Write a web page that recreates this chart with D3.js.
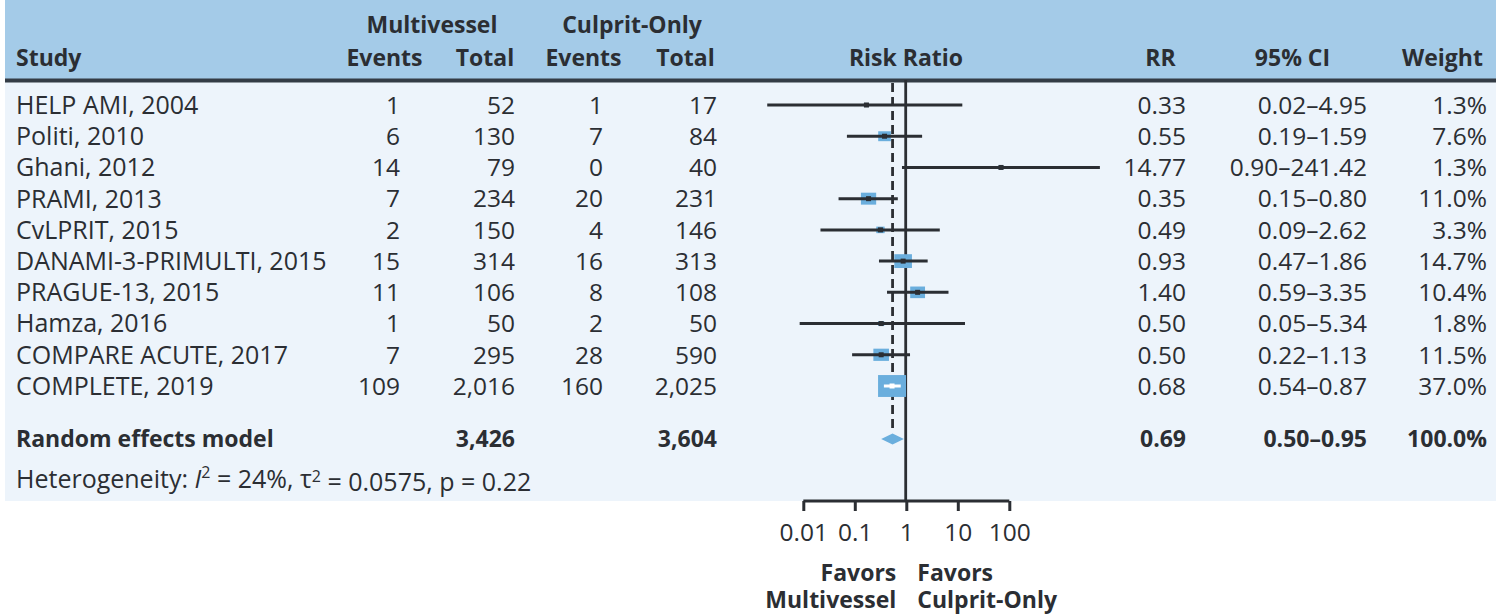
<!DOCTYPE html>
<html><head><meta charset="utf-8">
<script src="https://cdn.jsdelivr.net/npm/d3@7"></script>
<style>
body{margin:0;background:#fff}
.b{font-family:'Open Sans',sans-serif;font-weight:700;font-size:23px;font-stretch:90%;fill:#2b2e33}
.n{font-family:'Open Sans',sans-serif;font-weight:400;font-size:24.5px;font-stretch:90%;fill:#2b2e33}
.s{font-family:'Open Sans',sans-serif;font-weight:400;font-size:25px;fill:#2b2e33}
</style></head>
<body><svg id="chart" width="1496" height="614"></svg>
<script>
// ---- data ----
const studies = ["HELP AMI, 2004","Politi, 2010","Ghani, 2012","PRAMI, 2013","CvLPRIT, 2015","DANAMI-3-PRIMULTI, 2015","PRAGUE-13, 2015","Hamza, 2016","COMPARE ACUTE, 2017","COMPLETE, 2019"];
const mvEvents = [1,6,14,7,2,15,11,1,7,109];
const mvTotal  = [52,130,79,234,150,314,106,50,295,2016];
const coEvents = [1,7,0,20,4,16,8,2,28,160];
const coTotal  = [17,84,40,231,146,313,108,50,590,2025];
const rr    = [0.33,0.55,14.77,0.35,0.49,0.93,1.40,0.50,0.50,0.68];
const ciLow = [0.02,0.19,0.90,0.15,0.09,0.47,0.59,0.05,0.22,0.54];
const ciHigh= [4.95,1.59,241.42,0.80,2.62,1.86,3.35,5.34,1.13,0.87];
const weight= [1.3,7.6,1.3,11.0,3.3,14.7,10.4,1.8,11.5,37.0];
const pooled = {label:"Random effects model", mvTotal:3426, coTotal:3604, rr:0.69, lo:0.50, hi:0.95, w:100.0};
const axisTicks = [0.01,0.1,1,10,100];
const heterogeneity = {I2:"24%", tau2:"0.0575", p:"0.22"};

// ---- layout ----
const W=1496,H=614;
const svg=d3.select("#chart");
const fmtInt=d3.format(",");
const fmt2=d3.format(".2f");
const fmtW=d=>d3.format(".1f")(d)+"%";

const y=d3.scaleLinear().domain([0,9]).range([105,386]);
const ySummary=y(10.7);
// plotted effect scale (as drawn in the figure)
const xData=d3.scaleLog().domain([0.01,100]).range([742.7,1068.7]);
// axis scale (tick labels as printed under the figure)
const xAxis=d3.scaleLog().domain([0.01,100]).range([803.3,1009.3]);
const axisY=501;

const blue="#6aaedd", dark="#2b2e33";

// backgrounds
svg.append("rect").attr("x",5).attr("y",0).attr("width",W-5).attr("height",80).attr("fill","#a4cbe8");
svg.append("rect").attr("x",5).attr("y",82).attr("width",W-5).attr("height",axisY-82).attr("fill","#edf4fb");
svg.append("rect").attr("x",5).attr("y",78.5).attr("width",W-5).attr("height",4).attr("fill","#343c45");

// headers
const hdr=[
 {t:"Multivessel",x:432,y:33,a:"middle"},
 {t:"Culprit-Only",x:632,y:33,a:"middle"},
 {t:"Study",x:16,y:66,a:"start"},
 {t:"Events",x:384.5,y:66,a:"middle"},
 {t:"Total",x:485,y:66,a:"middle"},
 {t:"Events",x:583.5,y:66,a:"middle"},
 {t:"Total",x:685.5,y:66,a:"middle"},
 {t:"Risk Ratio",x:906,y:66,a:"middle"},
 {t:"RR",x:1160.5,y:66,a:"middle"},
 {t:"95% CI",x:1292.5,y:66,a:"middle"},
 {t:"Weight",x:1442.5,y:66,a:"middle"}
];
svg.selectAll("text.hdr").data(hdr).join("text").attr("class","b hdr")
 .attr("x",d=>d.x).attr("y",d=>d.y).attr("text-anchor",d=>d.a).text(d=>d.t);

// columns
const cols=[
 {x:400,v:i=>String(mvEvents[i])},
 {x:515,v:i=>fmtInt(mvTotal[i])},
 {x:603,v:i=>String(coEvents[i])},
 {x:717,v:i=>fmtInt(coTotal[i])},
 {x:1186,v:i=>fmt2(rr[i])},
 {x:1367,v:i=>fmt2(ciLow[i])+"–"+fmt2(ciHigh[i])},
 {x:1487,v:i=>fmtW(weight[i])}
];
const rows=svg.append("g");
studies.forEach((s,i)=>{
  rows.append("text").attr("class","s").attr("x",16).attr("y",y(i)).attr("dy","0.357em").text(s);
  cols.forEach(c=>rows.append("text").attr("class","n").attr("x",c.x).attr("y",y(i)).attr("dy","0.357em").attr("text-anchor","end").text(c.v(i)));
});
// summary row
const sumTexts=[
 {x:16,a:"start",t:pooled.label},
 {x:515,a:"end",t:fmtInt(pooled.mvTotal)},
 {x:717,a:"end",t:fmtInt(pooled.coTotal)},
 {x:1186,a:"end",t:fmt2(pooled.rr)},
 {x:1367,a:"end",t:fmt2(pooled.lo)+"–"+fmt2(pooled.hi)},
 {x:1487,a:"end",t:fmtW(pooled.w)}
];
svg.selectAll("text.sum").data(sumTexts).join("text").attr("class","b sum")
 .attr("x",d=>d.x).attr("y",ySummary).attr("dy","0.357em").attr("text-anchor",d=>d.a).text(d=>d.t);

// heterogeneity
const het=svg.append("text").attr("class","s").attr("x",16).attr("y",ySummary+40).attr("dy","0.357em");
het.append("tspan").text("Heterogeneity: ");
het.append("tspan").attr("font-style","italic").text("I");
het.append("tspan").attr("font-size","16px").attr("dy","-0.6em").text("2");
het.append("tspan").attr("dy","0.38em").text(" = "+heterogeneity.I2+", τ");
het.append("tspan").attr("font-size","16px").attr("dy","-0.38em").text("2");
het.append("tspan").attr("dy","0.38em").text(" = "+heterogeneity.tau2+", p = "+heterogeneity.p);

// forest plot
const plot=svg.append("g");
plot.append("line").attr("x1",xData(1)).attr("x2",xData(1)).attr("y1",80).attr("y2",axisY)
 .attr("stroke",dark).attr("stroke-width",2.8);
plot.append("line").attr("x1",xData(pooled.rr)).attr("x2",xData(pooled.rr)).attr("y1",83).attr("y2",ySummary-7)
 .attr("stroke",dark).attr("stroke-width",2.8).attr("stroke-dasharray","9,5");

const boxW=w=>4.6*Math.sqrt(w), boxH=w=>3.6*Math.sqrt(w);
studies.forEach((s,i)=>{
  const cx=xData(rr[i]), cy=y(i);
  plot.append("rect").attr("x",cx-boxW(weight[i])/2).attr("y",cy-boxH(weight[i])/2)
    .attr("width",boxW(weight[i])).attr("height",boxH(weight[i])).attr("fill",blue);
  const inside = (xData(ciHigh[i])-xData(ciLow[i])) < boxW(weight[i]);
  const col = inside ? "#ffffff" : dark;
  plot.append("line").attr("x1",xData(ciLow[i])).attr("x2",xData(ciHigh[i])).attr("y1",cy).attr("y2",cy)
    .attr("stroke",col).attr("stroke-width",3);
  plot.append("rect").attr("x",cx-2.5).attr("y",cy-2.5).attr("width",5).attr("height",5).attr("fill",col);
});
const dm=[[xData(pooled.lo),ySummary],[xData(pooled.rr),ySummary-5.5],[xData(pooled.hi),ySummary],[xData(pooled.rr),ySummary+5.5]];
plot.append("path").attr("d",d3.line()(dm)+"Z").attr("fill",blue);

// axis
const ax=svg.append("g").attr("transform",`translate(0,${axisY})`)
 .call(d3.axisBottom(xAxis).tickValues(axisTicks).tickFormat(d=>String(d)).tickSize(10).tickSizeOuter(0).tickPadding(13));
ax.select(".domain").attr("stroke",dark).attr("stroke-width",3).attr("d",`M${xAxis(0.01)},0H${xAxis(100)}`);
ax.selectAll(".tick line").attr("stroke",dark).attr("stroke-width",3);
ax.selectAll(".tick text").attr("class","n").attr("font-family",null).attr("font-size",null).attr("fill",null).attr("dy","0.71em");

// favors labels (two lines each)
const fav=[
 {x:xAxis(1)-10,a:"end",l1:"Favors",l2:"Multivessel"},
 {x:xAxis(1)+11,a:"start",l1:"Favors",l2:"Culprit-Only"}
];
fav.forEach(f=>{
  const t=svg.append("text").attr("class","b").attr("y",580.5).attr("text-anchor",f.a);
  t.append("tspan").attr("x",f.x).text(f.l1);
  t.append("tspan").attr("x",f.x).attr("dy",27.5).text(f.l2);
});
</script></body></html>
